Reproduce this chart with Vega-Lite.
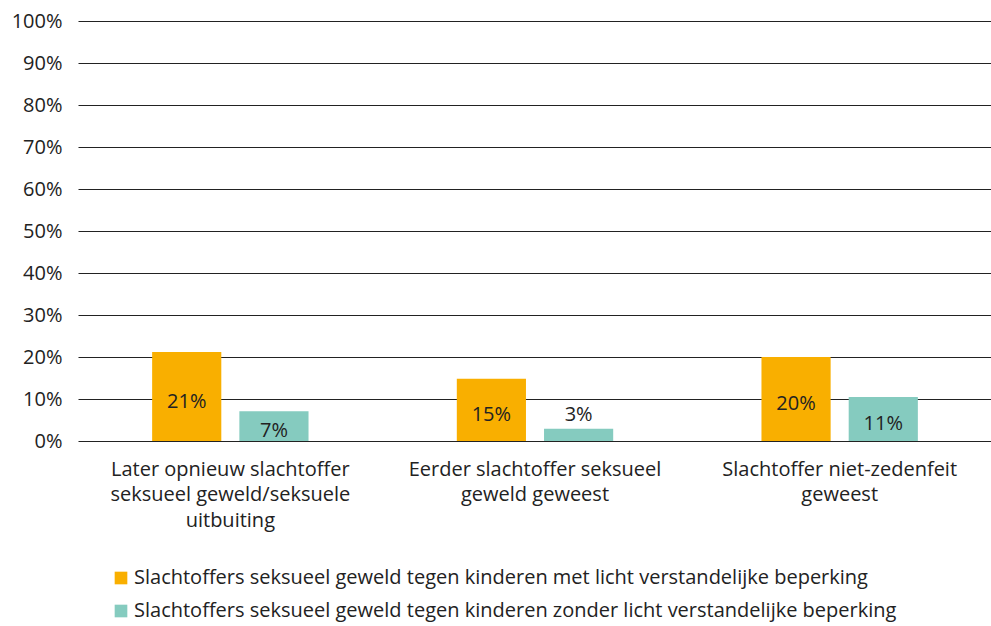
{
  "$schema": "https://vega.github.io/schema/vega-lite/v6.json",
  "autosize": "none",
  "width": 914,
  "height": 420,
  "padding": {"left": 78, "top": 21, "right": 0, "bottom": 185},
  "config": {
    "view": {"stroke": null},
    "font": "Open Sans",
    "text": {"font": "Open Sans"}
  },
  "data": {
    "values": [
      {"cat": "Later opnieuw slachtoffer|seksueel geweld/seksuele|uitbuiting", "group": "Slachtoffers seksueel geweld tegen kinderen met licht verstandelijke beperking", "value": 21.2, "label": "21%"},
      {"cat": "Later opnieuw slachtoffer|seksueel geweld/seksuele|uitbuiting", "group": "Slachtoffers seksueel geweld tegen kinderen zonder licht verstandelijke beperking", "value": 7.1, "label": "7%"},
      {"cat": "Eerder slachtoffer seksueel|geweld geweest", "group": "Slachtoffers seksueel geweld tegen kinderen met licht verstandelijke beperking", "value": 14.8, "label": "15%"},
      {"cat": "Eerder slachtoffer seksueel|geweld geweest", "group": "Slachtoffers seksueel geweld tegen kinderen zonder licht verstandelijke beperking", "value": 2.9, "label": "3%"},
      {"cat": "Slachtoffer niet-zedenfeit|geweest", "group": "Slachtoffers seksueel geweld tegen kinderen met licht verstandelijke beperking", "value": 20.0, "label": "20%"},
      {"cat": "Slachtoffer niet-zedenfeit|geweest", "group": "Slachtoffers seksueel geweld tegen kinderen zonder licht verstandelijke beperking", "value": 10.5, "label": "11%"}
    ]
  },
  "encoding": {
    "x": {
      "field": "cat", "type": "nominal", "sort": null, "title": null,
      "scale": {"paddingInner": 0, "paddingOuter": 0},
      "axis": {
        "labelAngle": 0, "domain": false, "ticks": false,
        "labelFontSize": 20, "labelColor": "#222222", "labelPadding": 18,
        "labelLineHeight": 25.5, "labelBaseline": "top", "labelLimit": 400,
        "labelExpr": "split(datum.label, '|')"
      }
    },
    "xOffset": {
      "field": "group", "type": "nominal", "sort": null,
      "scale": {"paddingInner": 0.207, "paddingOuter": 0.85}
    }
  },
  "layer": [
    {
      "mark": {"type": "bar"},
      "encoding": {
        "y": {
          "field": "value", "type": "quantitative", "title": null,
          "scale": {"domain": [0, 100]},
          "axis": {
            "values": [0, 10, 20, 30, 40, 50, 60, 70, 80, 90, 100],
            "labelExpr": "datum.value + '%'",
            "domain": false, "ticks": false,
            "labelFontSize": 20, "labelColor": "#222222", "labelPadding": 16,
            "gridColor": "#222222", "gridOpacity": 1, "gridWidth": 1.2
          }
        },
        "color": {
          "field": "group", "type": "nominal", "sort": null, "title": null,
          "scale": {"range": ["#F9AF00", "#85CBBF"]},
          "legend": {
            "orient": "none", "legendX": 33, "legendY": 547,
            "direction": "vertical",
            "symbolType": "square", "symbolSize": 160, "symbolStrokeWidth": 0,
            "symbolOpacity": 1,
            "labelFontSize": 20, "labelColor": "#222222", "labelLimit": 900,
            "rowPadding": 13, "labelOffset": 3
          }
        }
      }
    },
    {
      "mark": {"type": "rule", "color": "#777777", "strokeWidth": 2},
      "encoding": {"y": {"datum": 0}, "xOffset": null}
    },
    {
      "transform": [{"calculate": "datum.value < 5 ? datum.value + 3.4 : datum.value / 2 - 1.2", "as": "ly"}],
      "mark": {"type": "text", "fontSize": 20, "color": "#222222", "baseline": "middle"},
      "encoding": {
        "y": {"field": "ly", "type": "quantitative"},
        "text": {"field": "label"}
      }
    }
  ]
}
